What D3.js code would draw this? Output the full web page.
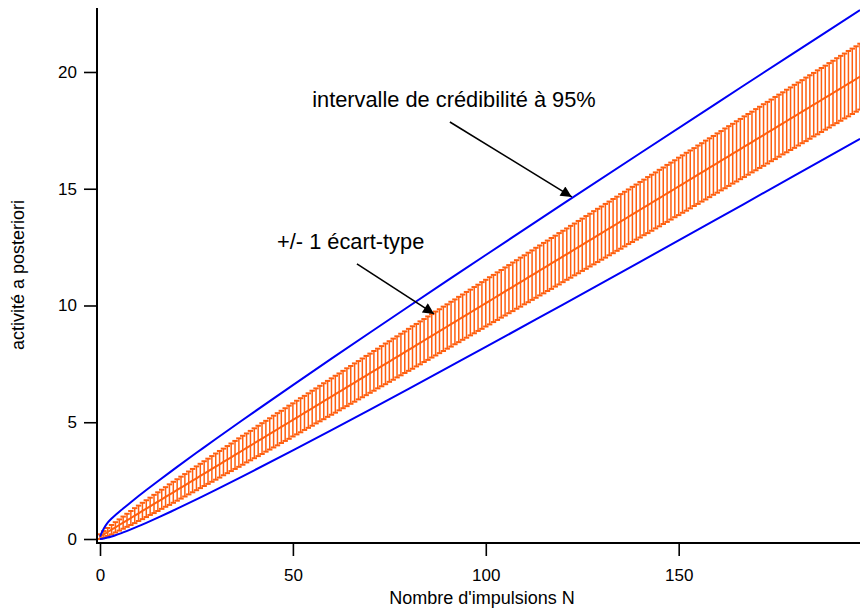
<!doctype html>
<meta charset='utf-8' />
<script src='https://cdn.jsdelivr.net/npm/d3@7'></script>
<style>
    body { margin: 0; background: #fff; }
    text { font-family: 'Liberation Sans', Arial, sans-serif; }
</style>
<svg></svg>
<script>
    var width = 860,
        height = 615

    // nombre d'impulsions (abscisse de chaque barre d'erreur)
    var counts = [0,1,2,3,4,5,6,7,8,9,10,11,12,13,14,15,16,17,18,19,20,21,22,23,24,25,26,27,28,29,
        30,31,32,33,34,35,36,37,38,39,40,41,42,43,44,45,46,47,48,49,50,51,52,53,54,55,56,57,58,59,
        60,61,62,63,64,65,66,67,68,69,70,71,72,73,74,75,76,77,78,79,80,81,82,83,84,85,86,87,88,89,
        90,91,92,93,94,95,96,97,98,99,100,101,102,103,104,105,106,107,108,109,110,111,112,113,114,
        115,116,117,118,119,120,121,122,123,124,125,126,127,128,129,130,131,132,133,134,135,136,137,
        138,139,140,141,142,143,144,145,146,147,148,149,150,151,152,153,154,155,156,157,158,159,160,
        161,162,163,164,165,166,167,168,169,170,171,172,173,174,175,176,177,178,179,180,181,182,183,
        184,185,186,187,188,189,190,191,192,193,194,195,196,197]

    // activité a posteriori (moyenne)
    var meanActivity = [0.1,0.2,0.3,0.4,0.5,0.6,0.7,0.8,0.9,1.0,1.1,1.2,1.3,1.4,1.5,1.6,1.7,1.8,1.9,2.0,
        2.1,2.2,2.3,2.4,2.5,2.6,2.7,2.8,2.9,3.0,3.1,3.2,3.3,3.4,3.5,3.6,3.7,3.8,3.9,4.0,
        4.1,4.2,4.3,4.4,4.5,4.6,4.7,4.8,4.9,5.0,5.1,5.2,5.3,5.4,5.5,5.6,5.7,5.8,5.9,6.0,
        6.1,6.2,6.3,6.4,6.5,6.6,6.7,6.8,6.9,7.0,7.1,7.2,7.3,7.4,7.5,7.6,7.7,7.8,7.9,8.0,
        8.1,8.2,8.3,8.4,8.5,8.6,8.7,8.8,8.9,9.0,9.1,9.2,9.3,9.4,9.5,9.6,9.7,9.8,9.9,10.0,
        10.1,10.2,10.3,10.4,10.5,10.6,10.7,10.8,10.9,11.0,11.1,11.2,11.3,11.4,11.5,11.6,11.7,11.8,11.9,12.0,
        12.1,12.2,12.3,12.4,12.5,12.6,12.7,12.8,12.9,13.0,13.1,13.2,13.3,13.4,13.5,13.6,13.7,13.8,13.9,14.0,
        14.1,14.2,14.3,14.4,14.5,14.6,14.7,14.8,14.9,15.0,15.1,15.2,15.3,15.4,15.5,15.6,15.7,15.8,15.9,16.0,
        16.1,16.2,16.3,16.4,16.5,16.6,16.7,16.8,16.9,17.0,17.1,17.2,17.3,17.4,17.5,17.6,17.7,17.8,17.9,18.0,
        18.1,18.2,18.3,18.4,18.5,18.6,18.7,18.8,18.9,19.0,19.1,19.2,19.3,19.4,19.5,19.6,19.7,19.8]

    // +/- 1 écart-type
    var sdActivity = [0.10,0.14,0.17,0.20,0.22,0.24,0.26,0.28,0.30,0.32,0.33,0.35,0.36,0.37,0.39,0.40,0.41,0.42,0.44,0.45,
        0.46,0.47,0.48,0.49,0.50,0.51,0.52,0.53,0.54,0.55,0.56,0.57,0.57,0.58,0.59,0.60,0.61,0.62,0.62,0.63,
        0.64,0.65,0.66,0.66,0.67,0.68,0.69,0.69,0.70,0.71,0.71,0.72,0.73,0.73,0.74,0.75,0.75,0.76,0.77,0.77,
        0.78,0.79,0.79,0.80,0.81,0.81,0.82,0.82,0.83,0.84,0.84,0.85,0.85,0.86,0.87,0.87,0.88,0.88,0.89,0.89,
        0.90,0.91,0.91,0.92,0.92,0.93,0.93,0.94,0.94,0.95,0.95,0.96,0.96,0.97,0.97,0.98,0.98,0.99,0.99,1.00,
        1.00,1.01,1.01,1.02,1.02,1.03,1.03,1.04,1.04,1.05,1.05,1.06,1.06,1.07,1.07,1.08,1.08,1.09,1.09,1.10,
        1.10,1.10,1.11,1.11,1.12,1.12,1.13,1.13,1.14,1.14,1.14,1.15,1.15,1.16,1.16,1.17,1.17,1.17,1.18,1.18,
        1.19,1.19,1.20,1.20,1.20,1.21,1.21,1.22,1.22,1.22,1.23,1.23,1.24,1.24,1.24,1.25,1.25,1.26,1.26,1.26,
        1.27,1.27,1.28,1.28,1.28,1.29,1.29,1.30,1.30,1.30,1.31,1.31,1.32,1.32,1.32,1.33,1.33,1.33,1.34,1.34,
        1.35,1.35,1.35,1.36,1.36,1.36,1.37,1.37,1.37,1.38,1.38,1.39,1.39,1.39,1.40,1.40,1.40,1.41]

    // intervalle de crédibilité à 95% (courbes bleues)
    var intervalN = [0, 1, 2, 3, 4, 5, 6, 8, 10, 12, 15, 20, 25, 30, 40, 50, 60, 70, 80, 90, 100, 120, 140, 160, 180, 197]
    var intervalLow = [0.003, 0.024, 0.062, 0.109, 0.162, 0.220, 0.281, 0.412, 0.549, 0.692, 0.915, 1.300, 1.698, 2.106,
        2.942, 3.797, 4.666, 5.545, 6.432, 7.326, 8.226, 10.040, 11.869, 13.709, 15.559, 17.138]
    var intervalHigh = [0.10, 0.45, 0.70, 0.877, 1.024, 1.167, 1.306, 1.576, 1.839, 2.096, 2.474, 3.089, 3.691, 4.283,
        5.447, 6.592, 7.723, 8.844, 9.957, 11.063, 12.163, 14.349, 16.521, 18.680, 20.830, 22.652]

    var xTicks = [0, 50, 100, 150],
        yTicks = [0, 5, 10, 15, 20]

    var orange = '#ff5f0f',
        blue = '#0000f5'

    var svg = d3.select('svg')
        .attr('width', width)
        .attr('height', height)

    var x = d3.scaleLinear().domain([0, 197]).range([100, 860])
    var y = d3.scaleLinear().domain([0, 22.74]).range([539, 8])

    var defs = svg.append('defs')
    defs.append('clipPath').attr('id', 'plot')
        .append('rect').attr('x', 90).attr('y', 0).attr('width', 770).attr('height', 560)
    defs.append('marker')
        .attr('id', 'head')
        .attr('viewBox', '0 0 10 10')
        .attr('refX', 10).attr('refY', 5)
        .attr('markerWidth', 15).attr('markerHeight', 11)
        .attr('markerUnits', 'userSpaceOnUse')
        .attr('orient', 'auto')
        .append('path').attr('d', 'M0,0L10,5L0,10Z').attr('fill', '#000')

    var plot = svg.append('g').attr('clip-path', 'url(#plot)')

    var bars = counts.map((n, i) => ({ n: n, m: meanActivity[i], s: sdActivity[i] }))

    // barres d'erreur
    var eb = plot.append('g').attr('stroke', orange)
    eb.selectAll('line.v').data(bars).enter().append('line')
        .attr('class', 'v')
        .attr('x1', d => x(d.n)).attr('x2', d => x(d.n))
        .attr('y1', d => y(d.m - d.s)).attr('y2', d => y(d.m + d.s))
        .attr('stroke-width', 1.5)
    eb.selectAll('line.top').data(bars).enter().append('line')
        .attr('class', 'top')
        .attr('x1', d => x(d.n) - 2.7).attr('x2', d => x(d.n) + 2.7)
        .attr('y1', d => y(d.m + d.s)).attr('y2', d => y(d.m + d.s))
        .attr('stroke-width', 2)
    eb.selectAll('line.bot').data(bars).enter().append('line')
        .attr('class', 'bot')
        .attr('x1', d => x(d.n) - 2.7).attr('x2', d => x(d.n) + 2.7)
        .attr('y1', d => y(d.m - d.s)).attr('y2', d => y(d.m - d.s))
        .attr('stroke-width', 2)

    plot.append('path')
        .datum(bars)
        .attr('fill', 'none')
        .attr('stroke', orange)
        .attr('stroke-width', 2)
        .attr('d', d3.line().x(d => x(d.n)).y(d => y(d.m)))

    var band = d3.line().curve(d3.curveCatmullRom)
    ;[intervalLow, intervalHigh].forEach(vals => {
        plot.append('path')
            .attr('fill', 'none')
            .attr('stroke', blue)
            .attr('stroke-width', 2)
            .attr('d', band(intervalN.map((n, i) => [x(n), y(vals[i])])))
    })

    // axes
    var axisY = svg.append('g')
        .attr('transform', 'translate(97,0)')
        .call(d3.axisLeft(y).tickValues(yTicks).tickSize(13).tickPadding(7))
    var axisX = svg.append('g')
        .attr('transform', 'translate(0,543)')
        .call(d3.axisBottom(x).tickValues(xTicks).tickSize(13).tickPadding(13))
    ;[axisX, axisY].forEach(a => {
        a.select('.domain').remove()
        a.selectAll('line').attr('stroke', '#000').attr('stroke-width', 1.6)
        a.selectAll('text').attr('font-size', 17).attr('fill', '#000')
            .style('font-family', "'Liberation Sans', Arial, sans-serif")
    })
    svg.append('line').attr('x1', 97).attr('x2', 97).attr('y1', 8).attr('y2', 544)
        .attr('stroke', '#000').attr('stroke-width', 2)
    svg.append('line').attr('x1', 96).attr('x2', 860).attr('y1', 543).attr('y2', 543)
        .attr('stroke', '#000').attr('stroke-width', 2)

    svg.append('text')
        .attr('x', 482).attr('y', 604)
        .attr('text-anchor', 'middle')
        .attr('font-size', 18)
        .text("Nombre d'impulsions N")

    svg.append('text')
        .attr('transform', 'translate(24,275) rotate(-90)')
        .attr('text-anchor', 'middle')
        .attr('font-size', 18)
        .text('activité a posteriori')

    // annotations
    svg.append('text')
        .attr('x', x(55)).attr('y', y(18.5))
        .attr('font-size', 21.8)
        .text('intervalle de crédibilité à 95%')
    svg.append('text')
        .attr('x', x(45.9)).attr('y', y(12.42))
        .attr('font-size', 21.8)
        .text('+/- 1 écart-type')

    svg.append('line')
        .attr('x1', x(90.7)).attr('y1', y(17.86))
        .attr('x2', x(122.3)).attr('y2', y(14.65))
        .attr('stroke', '#000').attr('stroke-width', 1.6)
        .attr('marker-end', 'url(#head)')
    svg.append('line')
        .attr('x1', x(66.6)).attr('y1', y(11.78))
        .attr('x2', x(86.6)).attr('y2', y(9.64))
        .attr('stroke', '#000').attr('stroke-width', 1.6)
        .attr('marker-end', 'url(#head)')
</script>
